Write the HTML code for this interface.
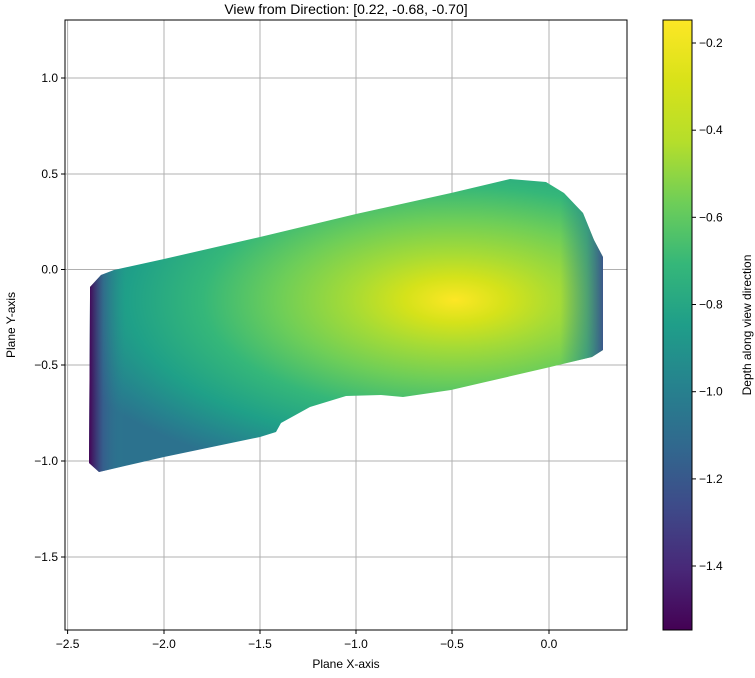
<!DOCTYPE html>
<html><head><meta charset="utf-8"><style>body{margin:0;background:#fff}svg{display:block;font-family:"Liberation Sans","DejaVu Sans",sans-serif}</style></head>
<body>
<svg width="755" height="678" viewBox="0 0 755 678" xmlns="http://www.w3.org/2000/svg">
<defs>
<radialGradient id="rg" gradientUnits="userSpaceOnUse" cx="455" cy="300" r="420" gradientTransform="translate(455 300) scale(1 0.45) translate(-455 -300)">
<stop offset="0" stop-color="#fde725"/>
<stop offset="0.12" stop-color="#d5e21a"/>
<stop offset="0.25" stop-color="#a5db36"/>
<stop offset="0.42" stop-color="#6ece58"/>
<stop offset="0.6" stop-color="#35b779"/>
<stop offset="0.78" stop-color="#1fa088"/>
<stop offset="0.92" stop-color="#26828e"/>
<stop offset="1" stop-color="#2c728e"/>
</radialGradient>
<linearGradient id="rgt" gradientUnits="userSpaceOnUse" x1="560" y1="0" x2="604" y2="0">
<stop offset="0" stop-color="#26828e" stop-opacity="0"/>
<stop offset="0.6" stop-color="#26828e" stop-opacity="0.6"/>
<stop offset="1" stop-color="#3b528b" stop-opacity="1"/>
</linearGradient>
<linearGradient id="lft" gradientUnits="userSpaceOnUse" x1="89" y1="0" x2="125" y2="0">
<stop offset="0" stop-color="#440154" stop-opacity="1"/>
<stop offset="0.4" stop-color="#3b528b" stop-opacity="0.6"/>
<stop offset="1" stop-color="#26828e" stop-opacity="0"/>
</linearGradient>
<linearGradient id="cb" x1="0" y1="1" x2="0" y2="0">
<stop offset="0" stop-color="#440154"/>
<stop offset="0.1" stop-color="#482878"/>
<stop offset="0.2" stop-color="#3e4a89"/>
<stop offset="0.3" stop-color="#31688e"/>
<stop offset="0.4" stop-color="#26828e"/>
<stop offset="0.5" stop-color="#1f9e89"/>
<stop offset="0.6" stop-color="#35b779"/>
<stop offset="0.7" stop-color="#6ece58"/>
<stop offset="0.8" stop-color="#b5de2b"/>
<stop offset="0.9" stop-color="#d8e219"/>
<stop offset="1" stop-color="#fde725"/>
</linearGradient>
</defs>
<text x="346" y="14" font-size="14" text-anchor="middle">View from Direction: [0.22, -0.68, -0.70]</text>
<g stroke="#b0b0b0" stroke-width="1">
<line x1="67.6" y1="20" x2="67.6" y2="630"/><line x1="164" y1="20" x2="164" y2="630"/><line x1="260" y1="20" x2="260" y2="630"/><line x1="356" y1="20" x2="356" y2="630"/><line x1="452" y1="20" x2="452" y2="630"/><line x1="549" y1="20" x2="549" y2="630"/>
<line x1="65" y1="78" x2="627" y2="78"/><line x1="65" y1="174" x2="627" y2="174"/><line x1="65" y1="269.5" x2="627" y2="269.5"/><line x1="65" y1="365" x2="627" y2="365"/><line x1="65" y1="461" x2="627" y2="461"/><line x1="65" y1="557" x2="627" y2="557"/>
</g>
<g>
<polygon points="90,287 101,275 114,270 164,259 260,237 356,214 451,193 489,184 510,179 546,182 564,193 583,213 594,240 603,257 603,350 592,357 546,368 451,390 403,397 381,395 346,396 310,407 281,423 276,432 260,437 164,457 99,472 89,463 90,297" fill="url(#rg)"/>
<polygon points="90,287 101,275 114,270 164,259 260,237 356,214 451,193 489,184 510,179 546,182 564,193 583,213 594,240 603,257 603,350 592,357 546,368 451,390 403,397 381,395 346,396 310,407 281,423 276,432 260,437 164,457 99,472 89,463 90,297" fill="url(#rgt)"/>
<polygon points="90,287 101,275 114,270 164,259 260,237 356,214 451,193 489,184 510,179 546,182 564,193 583,213 594,240 603,257 603,350 592,357 546,368 451,390 403,397 381,395 346,396 310,407 281,423 276,432 260,437 164,457 99,472 89,463 90,297" fill="url(#lft)"/>
</g>
<rect x="65" y="20" width="562" height="610" fill="none" stroke="#000" stroke-width="1"/>
<g stroke="#000" stroke-width="1">
<line x1="67.6" y1="630" x2="67.6" y2="634"/><line x1="164" y1="630" x2="164" y2="634"/><line x1="260" y1="630" x2="260" y2="634"/><line x1="356" y1="630" x2="356" y2="634"/><line x1="452" y1="630" x2="452" y2="634"/><line x1="549" y1="630" x2="549" y2="634"/>
<line x1="61" y1="78" x2="65" y2="78"/><line x1="61" y1="174" x2="65" y2="174"/><line x1="61" y1="269.5" x2="65" y2="269.5"/><line x1="61" y1="365" x2="65" y2="365"/><line x1="61" y1="461" x2="65" y2="461"/><line x1="61" y1="557" x2="65" y2="557"/>
</g>
<g font-size="12" text-anchor="middle">
<text x="67.6" y="648">−2.5</text><text x="164" y="648">−2.0</text><text x="260" y="648">−1.5</text><text x="356" y="648">−1.0</text><text x="452" y="648">−0.5</text><text x="549" y="648">0.0</text>
</g>
<g font-size="12" text-anchor="end">
<text x="58" y="82">1.0</text><text x="58" y="178">0.5</text><text x="58" y="273.5">0.0</text><text x="58" y="369">−0.5</text><text x="58" y="465">−1.0</text><text x="58" y="561">−1.5</text>
</g>
<text x="346" y="668" font-size="12" text-anchor="middle">Plane X-axis</text>
<text transform="translate(15 325) rotate(-90)" font-size="12" text-anchor="middle">Plane Y-axis</text>
<rect x="663" y="20" width="29" height="610" fill="url(#cb)" stroke="#000" stroke-width="1"/>
<g stroke="#000"><line x1="692" y1="43" x2="696" y2="43"/><line x1="692" y1="130.2" x2="696" y2="130.2"/><line x1="692" y1="217.3" x2="696" y2="217.3"/><line x1="692" y1="304.5" x2="696" y2="304.5"/><line x1="692" y1="391.7" x2="696" y2="391.7"/><line x1="692" y1="478.9" x2="696" y2="478.9"/><line x1="692" y1="566" x2="696" y2="566"/></g>
<g font-size="12">
<text x="699" y="47">−0.2</text><text x="699" y="134.2">−0.4</text><text x="699" y="221.3">−0.6</text><text x="699" y="308.5">−0.8</text><text x="699" y="395.7">−1.0</text><text x="699" y="482.9">−1.2</text><text x="699" y="570">−1.4</text>
</g>
<text transform="translate(751 325) rotate(-90)" font-size="12" text-anchor="middle">Depth along view direction</text>
</svg>
</body></html>
